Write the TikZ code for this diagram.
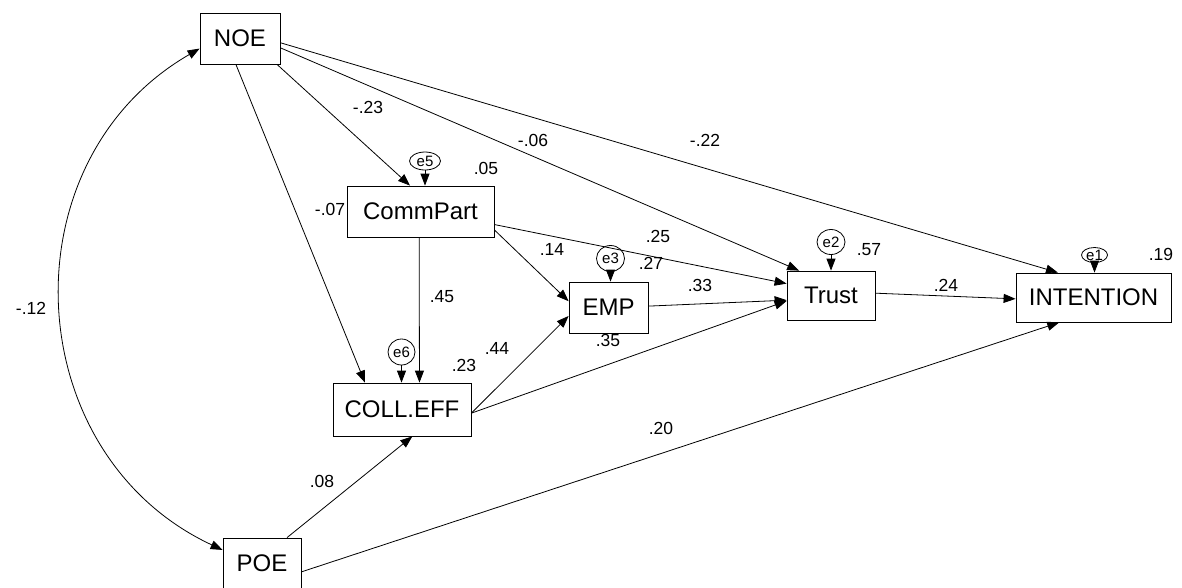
\documentclass[tikz,border=0pt]{standalone}
\usepackage{fontspec}
\setmainfont{Liberation Sans}
\usetikzlibrary{arrows.meta,shapes.geometric}

\begin{document}
\begin{tikzpicture}[x=1pt,y=1pt,line width=0.8pt,>={Triangle[length=12pt,width=9pt]},
    every node/.style={align=center},
    var/.style={draw,rectangle,inner sep=0pt,font=\fontsize{24}{28}\selectfont},
    err/.style={draw,ellipse,inner sep=0pt,font=\fontsize{15}{17}\selectfont},
    lab/.style={inner sep=0pt,font=\fontsize{17.5}{20}\selectfont}]
  \useasboundingbox (0,0) rectangle (1182,-587);

  % observed variables
  \node[var,minimum width=80pt,minimum height=51pt] (noe) at (240,-38.5) {NOE};
  \node[var,minimum width=147pt,minimum height=51pt] (commpart) at (420.5,-211.5) {CommPart};
  \node[var,minimum width=79pt,minimum height=51pt] (emp) at (608.5,-307.5) {EMP};
  \node[var,minimum width=88pt,minimum height=49pt] (trust) at (831,-295.5) {Trust};
  \node[var,minimum width=155pt,minimum height=49pt] (intention) at (1093.5,-297.5) {INTENTION};
  \node[var,minimum width=138pt,minimum height=53pt] (colleff) at (402,-409.5) {COLL.EFF};
  \node[var,minimum width=78pt,minimum height=51pt] (poe) at (262,-563.5) {POE};

  % error terms
  \node[err,minimum width=31pt,minimum height=18pt] (e5) at (425,-161) {e5};
  \node[err,minimum width=27pt,minimum height=26pt] (e6) at (401.5,-352) {e6};
  \node[err,minimum width=28pt,minimum height=26pt] (e3) at (610.5,-258.5) {e3};
  \node[err,minimum width=28pt,minimum height=25pt] (e2) at (831,-242) {e2};
  \node[err,minimum width=26pt,minimum height=15pt] (e1) at (1094.5,-255) {e1};

  \draw[->] (e5) -- (e5 |- commpart.north);
  \draw[->] (e6) -- (e6 |- colleff.north);
  \draw[->] (e3) -- (e3 |- emp.north);
  \draw[->] (e2) -- (e2 |- trust.north);
  \draw[->] (e1) -- (e1 |- intention.north);

  % paths
  \draw[->] (noe.-35) -- (commpart.112);
  \draw[->] (noe.-99) -- (colleff.144);
  \draw[->] (noe.-13) -- (trust.142);
  \draw[->] (noe.-6) -- (intention.145);
  \draw[->] (commpart.-93) -- (colleff.57);
  \draw[->] (commpart.-14) -- (emp.171);
  \draw[->] (commpart.-10) -- (trust.165);
  \draw[->] (emp.2) -- (trust.186);
  \draw[->] (colleff.-3) -- (emp.192);
  \draw[->] (colleff.-3) -- (trust.187);
  \draw[->] (trust.3) -- (intention.181);
  \draw[->] (poe.46) -- (colleff.-69);
  \draw[->] (poe.-12) -- (intention.-144);
  \draw[<->] (noe.194) to[out=210,in=155,looseness=1.15] (poe.161);

  % estimates
  \node[lab] (l1) at (368,-107) {-.23};
  \node[lab] (l2) at (330,-209) {-.07};
  \node[lab] (l3) at (533,-140) {-.06};
  \node[lab] (l4) at (705,-140) {-.22};
  \node[lab] (l5) at (486,-168) {.05};
  \node[lab] (l6) at (442,-297) {.45};
  \node[lab] (l7) at (552,-249) {.14};
  \node[lab] (l8) at (658,-236) {.25};
  \node[lab] (l9) at (651,-263) {.27};
  \node[lab] (l10) at (700,-285) {.33};
  \node[lab] (l11) at (608,-340) {.35};
  \node[lab] (l12) at (497,-348) {.44};
  \node[lab] (l13) at (464,-365) {.23};
  \node[lab] (l14) at (869,-250) {.57};
  \node[lab] (l15) at (946,-285) {.24};
  \node[lab] (l16) at (1161,-254) {.19};
  \node[lab] (l17) at (322,-481) {.08};
  \node[lab] (l18) at (661,-428) {.20};
  \node[lab] (l19) at (31,-308) {-.12};
\end{tikzpicture}
\end{document}
